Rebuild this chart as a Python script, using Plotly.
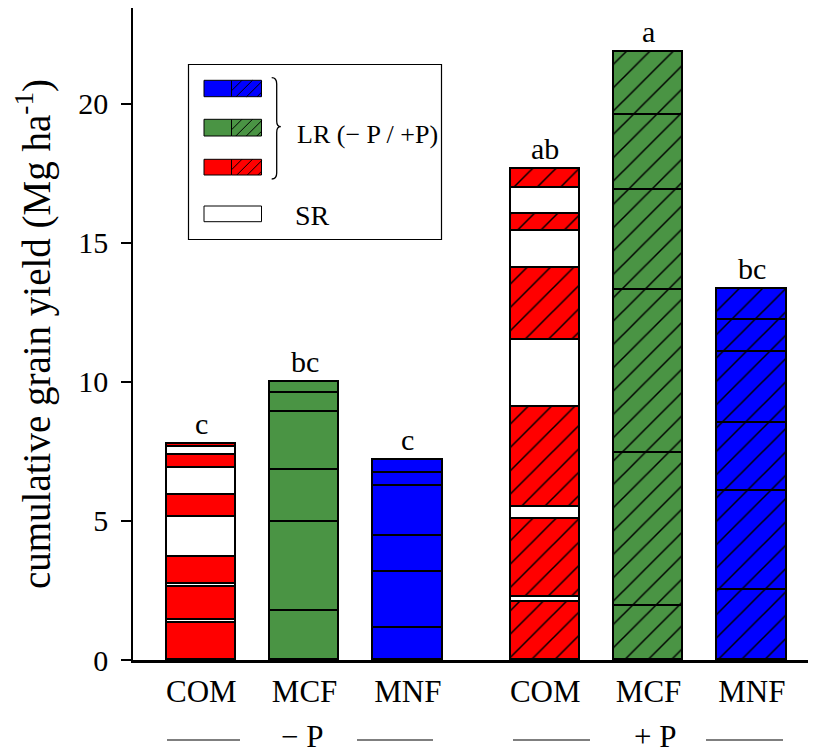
import plotly.graph_objects as go

# ---------------- data ----------------
treatments = ["COM", "MCF", "MNF"]
p_levels = ["− P", "+ P"]
letters = ["c", "bc", "c", "ab", "a", "bc"]

# long-rains (LR) season yields, seasons 1..6 (Mg/ha)
lr_minusP_COM = [1.32, 1.17, 0.96, 0.78, 0.47, 0.09]
lr_minusP_MCF = [1.77, 3.18, 1.90, 2.08, 0.69, 0.37]
lr_minusP_MNF = [1.14, 2.01, 1.32, 1.80, 0.47, 0.45]
lr_plusP_COM = [2.10, 2.78, 3.60, 2.58, 0.60, 0.68]
lr_plusP_MCF = [1.95, 5.51, 5.85, 3.60, 2.68, 2.29]
lr_plusP_MNF = [2.52, 3.57, 2.42, 2.58, 1.14, 1.10]
# short-rains (SR) season yields, seasons 1..5 (COM only)
sr_minusP_COM = [0.12, 0.12, 1.47, 0.96, 0.30]
sr_plusP_COM = [0.18, 0.45, 2.40, 1.35, 0.93]

# ---------------- styling ----------------
FONT = "Liberation Serif, Times New Roman, serif"
RED, GREEN, BLUE, WHITE = "#FF0000", "#4A9444", "#0000FF", "#FFFFFF"
trt_colors = [RED, GREEN, BLUE]
LW = 1.8

# bar positions: two groups of three with a wider gap between groups
group_gap = 1.33
x_minus = [0, 1, 2]
x_plus = [group_gap + 2, group_gap + 3, group_gap + 4]
xpos = x_minus + x_plus
com_x = [x_minus[0], x_plus[0]]
BW = 0.671

lr_minus = [lr_minusP_COM, lr_minusP_MCF, lr_minusP_MNF]
lr_plus = [lr_plusP_COM, lr_plusP_MCF, lr_plusP_MNF]

# page has an 8px body margin; the figure is sized to fill the rest
OFF = 8
W, H = 816 - OFF, 753 - OFF

fig = go.Figure()

def hatch(bg, size=16.5):
    # in "replace" mode marker.color becomes the hatch line colour
    return dict(shape="/", bgcolor=bg, fillmode="replace",
                size=size, solidity=0.09)

for s in range(6):
    # -P: solid fills
    fig.add_trace(go.Bar(
        x=x_minus, y=[ser[s] for ser in lr_minus], width=BW,
        marker=dict(color=trt_colors, line=dict(color="black", width=LW)),
        showlegend=False, hoverinfo="skip"))
    # +P: hatched fills
    fig.add_trace(go.Bar(
        x=x_plus, y=[ser[s] for ser in lr_plus], width=BW,
        marker=dict(color="black", line=dict(color="black", width=LW),
                    pattern=hatch(trt_colors)),
        showlegend=False, hoverinfo="skip"))
    if s < 5:
        fig.add_trace(go.Bar(
            x=com_x, y=[sr_minusP_COM[s], sr_plusP_COM[s]], width=BW,
            marker=dict(color=WHITE, line=dict(color="black", width=LW)),
            showlegend=False, hoverinfo="skip"))

# totals for letters
totals = [sum(s) for s in lr_minus] + [sum(s) for s in lr_plus]
totals[0] += sum(sr_minusP_COM)
totals[3] += sum(sr_plusP_COM)

annotations = []
for x, t, l in zip(xpos, totals, letters):
    annotations.append(dict(x=x, y=t, xref="x", yref="y", text=l,
                            showarrow=False, yanchor="bottom", yshift=2,
                            font=dict(family=FONT, size=30, color="black")))

# ---------------- pixel helpers for decorations (screen pixels) ----------------
L, T, R, B = 133, 8, 816, 660
def px(xp):
    return (xp - L) / (R - L)
def py(yp):
    return (B - yp) / (B - T)

shapes = []

def rect(x0, x1, y0, y1, fill, lw=1.0):
    shapes.append(dict(type="rect", xref="paper", yref="paper",
                       x0=px(x0), x1=px(x1), y0=py(y1), y1=py(y0),
                       line=dict(color="black", width=lw), fillcolor=fill))

def hatch_lines(x0, x1, y0, y1, step=10.0):
    h = y1 - y0
    c = x0 - h
    while c < x1:
        t0 = max(0.0, x0 - c)
        t1 = min(h, x1 - c)
        if t1 - t0 > 0.5:
            shapes.append(dict(type="line", xref="paper", yref="paper",
                               x0=px(c + t0), y0=py(y1 - t0),
                               x1=px(c + t1), y1=py(y1 - t1),
                               line=dict(color="black", width=1)))
        c += step

# legend frame
rect(188.5, 441.5, 64.5, 239.5, "rgba(0,0,0,0)", lw=1.2)
# legend swatches: solid half + hatched half
LX0, LXM, LX1 = 204, 231.5, 261.5
for (yt, yb), col in [((80.3, 96.7), BLUE), ((119.3, 136), GREEN),
                      ((159.3, 175), RED)]:
    rect(LX0, LXM, yt, yb, col)
    rect(LXM, LX1, yt, yb, col)
    hatch_lines(LXM, LX1, yt, yb, step=10.5)
rect(LX0, LX1, 206, 221.7, WHITE)

# brace
bx = [(271.7, 77.7), (276.7, 77.7), (276.7, 84), (276.7, 121), (276.7, 126.7),
      (280.8, 126.7), (276.7, 126.7), (276.7, 132.4), (276.7, 173), (276.7, 179),
      (271.7, 179)]
P = [(px(a), py(b)) for a, b in bx]
path = (f"M {P[0][0]} {P[0][1]} Q {P[1][0]} {P[1][1]} {P[2][0]} {P[2][1]} "
        f"L {P[3][0]} {P[3][1]} Q {P[4][0]} {P[4][1]} {P[5][0]} {P[5][1]} "
        f"Q {P[6][0]} {P[6][1]} {P[7][0]} {P[7][1]} "
        f"L {P[8][0]} {P[8][1]} Q {P[9][0]} {P[9][1]} {P[10][0]} {P[10][1]}")
shapes.append(dict(type="path", xref="paper", yref="paper", path=path,
                   line=dict(color="black", width=1.3)))

annotations.append(dict(x=px(295), y=py(135), xref="paper", yref="paper",
                        text="LR (− P / +P)", showarrow=False, xanchor="left",
                        yanchor="middle",
                        font=dict(family=FONT, size=26, color="black")))
annotations.append(dict(x=px(293), y=py(215), xref="paper", yref="paper",
                        text="SR", showarrow=False, xanchor="left",
                        yanchor="middle",
                        font=dict(family=FONT, size=28, color="black")))

# group labels with side rules
for lab, cx, segs in [(p_levels[0], 302, [(167, 240), (357, 433)]),
                      (p_levels[1], 655, [(513, 590), (706, 783)])]:
    annotations.append(dict(x=px(cx), y=py(736), xref="paper", yref="paper",
                            text=lab, showarrow=False, xanchor="center",
                            yanchor="middle",
                            font=dict(family=FONT, size=31, color="black")))
    for a, b in segs:
        shapes.append(dict(type="line", xref="paper", yref="paper",
                           x0=px(a), x1=px(b), y0=py(740), y1=py(740),
                           line=dict(color="black", width=1.2)))

fig.update_layout(
    width=W, height=H,
    margin=dict(l=L - OFF, r=816 - R, t=T - OFF, b=753 - B, pad=0),
    paper_bgcolor="white", plot_bgcolor="white",
    barmode="stack", bargap=0,
    showlegend=False,
    font=dict(family=FONT, color="black"),
    xaxis=dict(range=[-0.661, 5.951], tickvals=xpos,
               ticktext=treatments + treatments,
               tickfont=dict(family=FONT, size=31),
               ticks="", showline=True, linecolor="black", linewidth=3,
               showgrid=False, zeroline=False, ticklabelstandoff=2),
    yaxis=dict(range=[0, 23.45], tickvals=[0, 5, 10, 15, 20],
               tickfont=dict(family=FONT, size=30),
               ticks="outside", ticklen=10, tickwidth=1.5, tickcolor="black",
               showline=True, linecolor="black", linewidth=1.5,
               showgrid=False, zeroline=False, ticklabelstandoff=7,
               title=dict(text="cumulative grain yield (Mg ha<sup>-1</sup>)",
                          font=dict(family=FONT, size=39), standoff=16)),
    shapes=shapes, annotations=annotations,
)

fig.write_html("out.html")
